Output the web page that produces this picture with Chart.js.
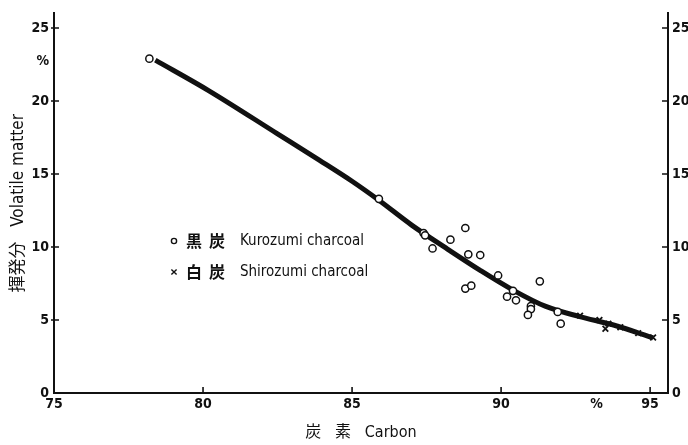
<!DOCTYPE html>
<html>
<head>
<meta charset="utf-8">
<script src="https://cdn.jsdelivr.net/npm/chart.js@4.4.1/dist/chart.umd.min.js"></script>
<style>
  html, body { margin: 0; padding: 0; background: #fff; }
  #wrap { width: 688px; height: 445px; }
</style>
</head>
<body>
<div id="wrap"><canvas id="c" width="688" height="445"></canvas></div>
<script>
// Fitted trend: volatile matter (%) against carbon content (%)
const curveCarbon   = [78.4, 80.2, 82.5, 83.9, 85.0, 85.9, 87.0, 88.2, 89.3, 90.4, 91.5, 92.6, 93.8, 95.1];
const curveVolatile = [22.8, 20.7, 17.75, 15.95, 14.5, 13.2, 11.5, 9.86, 8.4, 7.05, 5.93, 5.25, 4.64, 3.78];

// 黒炭 Kurozumi charcoal samples
const kuroCarbon   = [78.2, 85.9, 87.4, 87.45, 87.7, 88.3, 88.8, 88.9, 89.3, 88.8, 89.0, 89.9, 90.4, 90.2, 90.5, 91.0, 91.0, 90.9, 91.3, 91.9, 92.0];
const kuroVolatile = [22.9, 13.3, 10.95, 10.8, 9.9, 10.5, 11.3, 9.5, 9.45, 7.15, 7.35, 8.05, 7.0, 6.6, 6.35, 5.95, 5.75, 5.35, 7.65, 5.55, 4.75];

// 白炭 Shirozumi charcoal samples
const shiroCarbon   = [92.65, 93.3, 93.5, 93.6, 94.0, 94.6, 95.1];
const shiroVolatile = [5.3, 5.0, 4.4, 4.75, 4.5, 4.1, 3.8];

// Axis ticks
const xTickValues = [75, 80, 85, 90, 95];
const yTickValues = [0, 5, 10, 15, 20, 25];
const xUnitAt = 93.2;   // "%" written among the carbon ticks
const yUnitAt = 22.7;   // "%" written among the volatile ticks

const INK = '#111';
const NUM_FONT = '"Liberation Sans Narrow", "DejaVu Sans Condensed", "Noto Sans CJK JP", sans-serif';

const pairs = (xs, ys) => xs.map((x, i) => ({ x, y: ys[i] }));

// Short tick marks pointing into the plot, plus the legend block
const inkPlugin = {
  id: 'ink',
  afterDraw(chart) {
    const { ctx, chartArea: a, scales } = chart;
    ctx.save();
    ctx.strokeStyle = INK;
    ctx.lineWidth = 1.6;
    ctx.beginPath();
    xTickValues.slice(1).forEach(v => {
      const px = scales.x.getPixelForValue(v);
      ctx.moveTo(px, a.bottom); ctx.lineTo(px, a.bottom - 6);
    });
    yTickValues.slice(1).forEach(v => {
      const py = scales.y.getPixelForValue(v);
      ctx.moveTo(a.left - 3, py); ctx.lineTo(a.left + 5, py);
      const pr = scales.y2.getPixelForValue(v);
      ctx.moveTo(a.right - 6, pr); ctx.lineTo(a.right, pr);
    });
    ctx.stroke();

    // legend
    const lx = 174, rows = [241, 272];
    ctx.lineWidth = 1.4;
    ctx.beginPath();
    ctx.arc(lx, rows[0], 2.6, 0, Math.PI * 2);
    ctx.stroke();
    ctx.beginPath();
    ctx.moveTo(lx - 2.6, rows[1] - 2.6); ctx.lineTo(lx + 2.6, rows[1] + 2.6);
    ctx.moveTo(lx + 2.6, rows[1] - 2.6); ctx.lineTo(lx - 2.6, rows[1] + 2.6);
    ctx.stroke();
    ctx.fillStyle = INK;
    ctx.textBaseline = 'middle';
    ctx.font = 'bold 16px "Noto Sans CJK JP"';
    ctx.fillText('黒', 186, rows[0]);
    ctx.fillText('炭', 209, rows[0]);
    ctx.fillText('白', 186, rows[1]);
    ctx.fillText('炭', 209, rows[1]);
    ctx.font = '15px ' + NUM_FONT;
    ctx.fillText('Kurozumi charcoal', 240, rows[0]);
    ctx.fillText('Shirozumi charcoal', 240, rows[1]);
    ctx.restore();
  }
};

new Chart(document.getElementById('c'), {
  type: 'scatter',
  data: {
    datasets: [
      {
        label: '黒炭 Kurozumi charcoal',
        data: pairs(kuroCarbon, kuroVolatile),
        pointStyle: 'circle',
        pointRadius: 3.6,
        pointBorderWidth: 1.5,
        borderColor: INK,
        backgroundColor: '#fff',
        order: 1
      },
      {
        label: '白炭 Shirozumi charcoal',
        data: pairs(shiroCarbon, shiroVolatile),
        pointStyle: 'crossRot',
        pointRadius: 4,
        pointBorderWidth: 1.8,
        borderColor: INK,
        backgroundColor: INK,
        order: 2
      },
      {
        type: 'line',
        label: 'trend',
        data: pairs(curveCarbon, curveVolatile),
        showLine: true,
        borderColor: INK,
        borderWidth: 5,
        pointRadius: 0,
        cubicInterpolationMode: 'monotone',
        fill: false,
        order: 3
      }
    ]
  },
  options: {
    responsive: false,
    animation: false,
    events: [],
    layout: { padding: { top: 7, left: 0, right: 0, bottom: 0 } },
    plugins: { legend: { display: false }, tooltip: { enabled: false } },
    scales: {
      x: {
        type: 'linear',
        min: 75, max: 95.6,
        afterBuildTicks: s => { s.ticks = [...xTickValues, xUnitAt].sort((a, b) => a - b).map(v => ({ value: v })); },
        afterFit: s => { s.height = 52; },
        grid: { display: false, drawTicks: false },
        border: { display: true, color: INK, width: 2 },
        ticks: {
          padding: 3, autoSkip: false, maxRotation: 0,
          color: INK,
          font: { family: NUM_FONT, size: 14, weight: 'bold' },
          callback: v => v === xUnitAt ? '%' : String(v)
        },
        title: {
          display: true, text: '炭   素   Carbon', color: INK,
          font: { family: NUM_FONT, size: 16 },
          padding: { top: 0, bottom: 3 }
        }
      },
      y: {
        type: 'linear', position: 'left',
        min: 0, max: 26,
        afterBuildTicks: s => { s.ticks = [...yTickValues, yUnitAt].sort((a, b) => a - b).map(v => ({ value: v })); },
        afterFit: s => { s.width = 54; },
        grid: { display: false, drawTicks: false },
        border: { display: true, color: INK, width: 2 },
        ticks: {
          padding: 5, autoSkip: false,
          color: INK,
          font: { family: NUM_FONT, size: 14, weight: 'bold' },
          callback: v => v === yUnitAt ? '%' : String(v)
        },
        title: {
          display: true, text: '揮発分   Volatile matter', color: INK,
          font: { family: NUM_FONT, size: 17 },
          padding: { top: 8, bottom: 0 }
        }
      },
      y2: {
        type: 'linear', position: 'right',
        min: 0, max: 26,
        afterBuildTicks: s => { s.ticks = yTickValues.map(v => ({ value: v })); },
        afterFit: s => { s.width = 20; },
        grid: { display: false, drawTicks: false },
        border: { display: true, color: INK, width: 2 },
        ticks: {
          padding: 4, autoSkip: false,
          color: INK,
          font: { family: NUM_FONT, size: 14, weight: 'bold' }
        }
      }
    }
  },
  plugins: [inkPlugin]
});
</script>
</body>
</html>
